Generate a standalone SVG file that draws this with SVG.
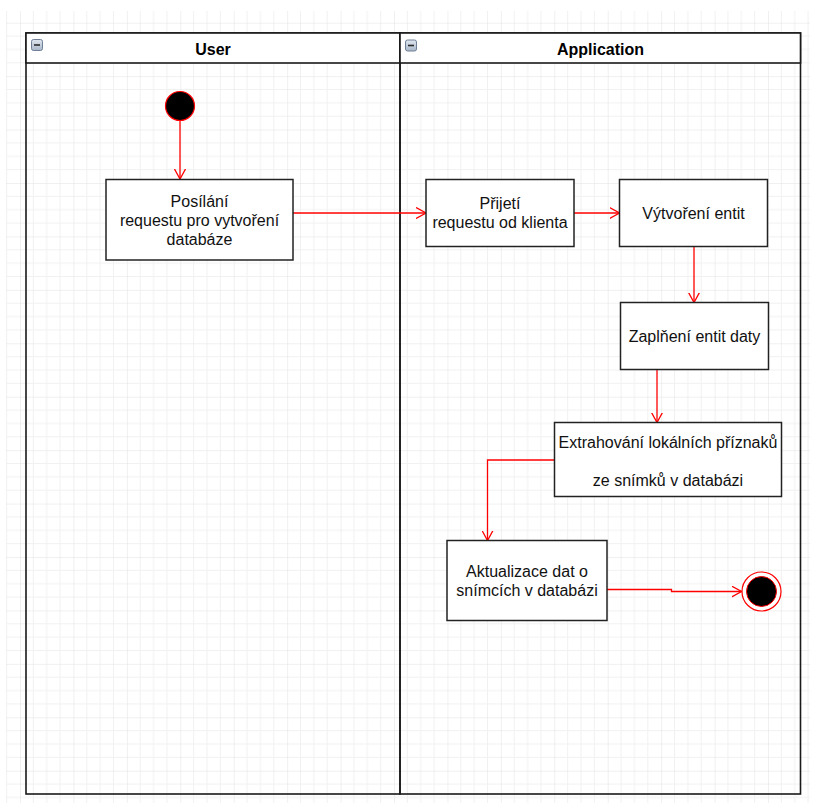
<svg xmlns="http://www.w3.org/2000/svg" width="815" height="803" viewBox="0 0 815 803">
  <style>
    .lane { fill: none; stroke: #1a1a1a; stroke-width: 1.6; }
    .lane-head { fill: #ffffff; stroke: #1a1a1a; stroke-width: 1.6; }
    .lane-title { font-family: "Liberation Sans", Arial, sans-serif; font-size: 16px; font-weight: bold; fill: #000; text-anchor: middle; }
    .box { fill: #ffffff; stroke: #222222; stroke-width: 1.5; }
    .label { font-family: "Liberation Sans", Arial, sans-serif; font-size: 16px; fill: #111; text-anchor: middle; }
    .flow { fill: none; stroke: #ff0000; stroke-width: 1.3; marker-end: url(#open-arrow); }
    .toggle { fill: url(#toggle-fill); stroke: #6f7f96; stroke-width: 1; }
    .toggle-bar { stroke: #2b2b2b; stroke-width: 1.6; }
  </style>
  <defs>
    <pattern id="grid" patternUnits="userSpaceOnUse" x="20" y="22.7" width="53.43" height="53.43">
      <path d="M13.36 0V53.43M26.72 0V53.43M40.07 0V53.43M0 13.36H53.43M0 26.72H53.43M0 40.07H53.43" stroke="#f1f1f1" stroke-width="1" fill="none"/>
      <path d="M0 0V53.43M0 0H53.43" stroke="#e2e2e2" stroke-width="1" fill="none"/>
    </pattern>
    <linearGradient id="toggle-fill" x1="0" y1="0" x2="0" y2="1">
      <stop offset="0" stop-color="#dfe6ef"/>
      <stop offset="1" stop-color="#a9b7c9"/>
    </linearGradient>
    <marker id="open-arrow" viewBox="0 0 10 12" refX="10" refY="6" markerWidth="10" markerHeight="12" markerUnits="userSpaceOnUse" orient="auto">
      <path d="M0,0.5 L10,6 L0,11.5" fill="none" stroke="#ff0000" stroke-width="1.3"/>
    </marker>
  </defs>

  <!-- page background with grid -->
  <rect x="0" y="0" width="815" height="803" fill="#ffffff"/>
  <rect x="6" y="11" width="804" height="792" fill="url(#grid)"/>

  <!-- swimlane: User -->
  <g id="lane-user">
    <rect class="lane" x="26" y="33" width="374" height="761"/>
    <rect class="lane-head" x="26" y="33" width="374" height="30"/>
    <rect class="toggle" x="31.5" y="39.5" width="11" height="11" rx="2"/>
    <line class="toggle-bar" x1="34" y1="45" x2="40" y2="45"/>
    <text class="lane-title" x="213" y="54.5">User</text>
  </g>

  <!-- swimlane: Application -->
  <g id="lane-application">
    <rect class="lane" x="400" y="33" width="400.5" height="761"/>
    <rect class="lane-head" x="400" y="33" width="400.5" height="30"/>
    <rect class="toggle" x="405.5" y="40" width="11" height="11" rx="2"/>
    <line class="toggle-bar" x1="408" y1="45.5" x2="414" y2="45.5"/>
    <text class="lane-title" x="600.5" y="54.5">Application</text>
  </g>

  <!-- connectors -->
  <g id="connectors">
    <path class="flow" d="M180,121 V179"/>
    <path class="flow" d="M293,213 H426"/>
    <path class="flow" d="M574,213 H619.5"/>
    <path class="flow" d="M694,247 V302.5"/>
    <path class="flow" d="M657,369.5 V422.5"/>
    <path class="flow" d="M554.5,460 H487.5 V540.5"/>
    <path class="flow" d="M607,589.5 H671.5 V591.5 H741.5"/>
  </g>

  <!-- initial state -->
  <g id="start">
    <circle cx="180" cy="106" r="14.5" fill="#000000" stroke="#ff0000" stroke-width="1.2"/>
  </g>

  <g id="node-posilani">
    <rect class="box" x="106" y="179.5" width="187" height="80.5"/>
    <text class="label" x="199.5" y="207">Posílání</text>
    <text class="label" x="199.5" y="226.2">requestu pro vytvoření</text>
    <text class="label" x="199.5" y="245.4">databáze</text>
  </g>

  <g id="node-prijeti">
    <rect class="box" x="426" y="179.5" width="148" height="67"/>
    <text class="label" x="500" y="209">Přijetí</text>
    <text class="label" x="500" y="228.2">requestu od klienta</text>
  </g>

  <g id="node-vytvoreni">
    <rect class="box" x="619.5" y="179.5" width="148" height="67"/>
    <text class="label" x="693.5" y="218.8">Výtvoření entit</text>
  </g>

  <g id="node-zaplneni">
    <rect class="box" x="620.5" y="302.5" width="148" height="67"/>
    <text class="label" x="694.5" y="342">Zaplňení entit daty</text>
  </g>

  <g id="node-extrahovani">
    <rect class="box" x="554.5" y="422.5" width="227" height="74"/>
    <text class="label" x="668" y="447.5">Extrahování lokálních příznaků</text>
    <text class="label" x="668" y="485.9">ze snímků v databázi</text>
  </g>

  <g id="node-aktualizace">
    <rect class="box" x="447" y="540.5" width="160" height="80"/>
    <text class="label" x="527" y="577">Aktualizace dat o</text>
    <text class="label" x="527" y="596.2">snímcích v databázi</text>
  </g>

  <!-- final state -->
  <g id="end">
    <circle cx="761.5" cy="591.5" r="19.5" fill="#ffffff" stroke="#ff0000" stroke-width="1.2"/>
    <circle cx="761.5" cy="591.5" r="15" fill="#000000" stroke="#ff0000" stroke-width="1"/>
  </g>
</svg>
